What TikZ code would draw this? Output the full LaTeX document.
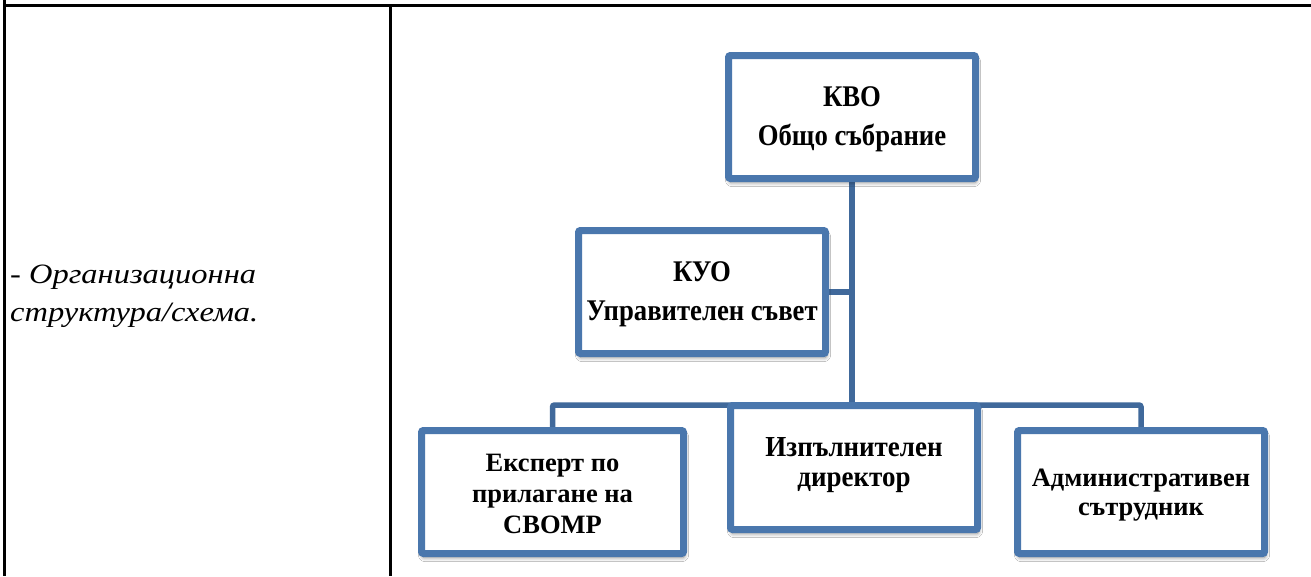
\documentclass[tikz,border=0pt]{standalone}
\usepackage{fontspec}
\setmainfont{Liberation Serif}
\newfontfamily\topfam[FakeStretch=0.89]{Liberation Serif}
\newfontfamily\midfam[FakeStretch=0.93]{Liberation Serif}
\newfontfamily\lowfam[FakeStretch=1.0]{Liberation Serif}
\newfontfamily\leftfam[FakeStretch=1.16]{Liberation Serif}
\usetikzlibrary{backgrounds,shadows.blur}
\definecolor{boxblue}{HTML}{4A77AD}
\definecolor{lineblue}{HTML}{40699B}
\tikzset{
  orgbox/.style={draw=boxblue, line width=7pt, fill=white, rounded corners=2pt,
    minimum width=247pt, minimum height=123pt, inner sep=0pt, align=center,
    text depth=0pt,
    blur shadow={shadow xshift=1pt, shadow yshift=-4pt, shadow blur radius=4pt, shadow blur steps=8, shadow opacity=45}},
  topfont/.style={font=\topfam\fontsize{30}{38.3}\selectfont\bfseries},
  midfont/.style={font=\midfam\fontsize{29}{30.7}\selectfont\bfseries},
  conn/.style={draw=lineblue, line width=5.5pt, rounded corners=2pt},
  tableline/.style={line width=3pt, black},
  leftlabel/.style={anchor=base west, inner sep=0pt, font=\leftfam\fontsize{28}{38}\selectfont\itshape}
}
\begin{document}
\begin{tikzpicture}[x=1pt,y=-1pt]
\useasboundingbox (0,0) rectangle (1311,576);
\node[leftlabel] (lbl1) at (10,283) {- Организационна};
\node[leftlabel] (lbl2) at (10,321.7) {структура/схема.};
% boxes
\node[orgbox, topfont, text height=56pt] (kvo) at (852,117) {КВО\\Общо събрание};
\node[orgbox, topfont, text height=56pt] (kuo) at (702,292) {КУО\\Управителен съвет};
\node[orgbox, minimum width=262pt, text height=82.6pt, font=\lowfam\fontsize{26.5}{30.8}\selectfont\bfseries] (exp) at (552.5,492) {Експерт по\\прилагане на\\СВОМР};
\node[orgbox, midfont, minimum height=124pt, text height=38.4pt] (dir) at (854,467.5) {Изпълнителен\\директор};
\node[orgbox, text height=47.4pt, font=\lowfam\fontsize{26.5}{29}\selectfont\bfseries] (adm) at (1141,492) {Административен\\сътрудник};
\coordinate (bus) at (852,405);
\begin{scope}[on background layer]
  \fill[white] (0,0) rectangle (1311,576);
  \draw[tableline] (4.5,0) -- (4.5,576);
  \draw[tableline] (3,5.5) -- (1311,5.5);
  \draw[tableline] (390.5,5.5) -- (390.5,576);
  \draw[conn] (kvo.south) -- (bus);
  \draw[conn] (kuo.east) -- (kuo.east -| kvo.south);
  \draw[conn] (exp.north) -- (exp.north |- bus) -- (adm.north |- bus) -- (adm.north);
\end{scope}
\end{tikzpicture}
\end{document}
